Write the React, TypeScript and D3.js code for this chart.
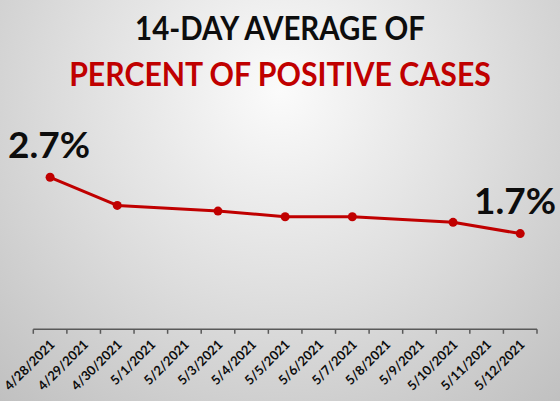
import React from "react";
import * as d3 from "d3";

const categories = [
  "4/28/2021", "4/29/2021", "4/30/2021", "5/1/2021", "5/2/2021", "5/3/2021",
  "5/4/2021", "5/5/2021", "5/6/2021", "5/7/2021", "5/8/2021", "5/9/2021",
  "5/10/2021", "5/11/2021", "5/12/2021",
];
const values: (number | null)[] = [
  2.7, null, 2.2, null, null, 2.1, null, 2.0, null, 2.0, null, null, 1.9, null, 1.7,
];
const titleLine1 = "14-DAY AVERAGE OF";
const titleLine2 = "PERCENT OF POSITIVE CASES";
const firstLabel = "2.7%";
const lastLabel = "1.7%";

const W = 560;
const H = 401;
const FONT = "Lato, 'Open Sans', sans-serif";

export default function App() {
  const x = d3.scaleBand<string>().domain(categories).range([33.3, 537]).padding(0);
  const y = d3.scaleLinear().domain([0, 3]).range([329.3, 160.4]);

  const pts = categories
    .map((c, i) => ({ c, v: values[i] }))
    .filter((d) => d.v !== null) as { c: string; v: number }[];

  const line = d3
    .line<{ c: string; v: number }>()
    .x((d) => (x(d.c) as number) + x.bandwidth() / 2)
    .y((d) => y(d.v));

  const tickXs = [...categories.map((c) => x(c) as number), 537];
  const axisY = y(0);

  return (
    <svg
      width={W}
      height={H}
      style={{ position: "absolute", left: 0, top: 0, display: "block" }}
      fontFamily={FONT}
    >
      <defs>
        <radialGradient id="bg" gradientUnits="userSpaceOnUse" cx={280} cy={90} r={420}>
          <stop offset="0%" stopColor="#fbfbfb" />
          <stop offset="50%" stopColor="#dedede" />
          <stop offset="100%" stopColor="#c0c0c0" />
        </radialGradient>
      </defs>
      <rect x={0} y={0} width={W} height={H} fill="url(#bg)" />

      <text transform="translate(280,39.5) scale(0.92,1)" textAnchor="middle" fontSize={32} fontWeight="bold" fill="#0d0d0d">
        {titleLine1}
      </text>
      <text transform="translate(280,86) scale(0.945,1)" textAnchor="middle" fontSize={32} fontWeight="bold" fill="#c00000">
        {titleLine2}
      </text>

      <line x1={33.3} x2={537} y1={axisY} y2={axisY} stroke="#595959" strokeWidth={1.5} />
      {tickXs.map((tx, i) => (
        <line key={i} x1={tx} x2={tx} y1={axisY} y2={axisY + 4.5} stroke="#595959" strokeWidth={1.5} />
      ))}
      {categories.map((c) => {
        const cx = (x(c) as number) + x.bandwidth() / 2 + 5.5;
        const cy = axisY + 16;
        return (
          <text
            key={c}
            transform={`translate(${cx},${cy}) rotate(-45)`}
            textAnchor="end"
            fontSize={13}
            fontWeight="bold"
            fill="#0d0d0d"
          >
            {c}
          </text>
        );
      })}

      <path d={line(pts) as string} fill="none" stroke="#c00000" strokeWidth={3} strokeLinejoin="round" />
      {pts.map((d) => (
        <circle
          key={d.c}
          cx={(x(d.c) as number) + x.bandwidth() / 2}
          cy={y(d.v)}
          r={4.5}
          fill="#c00000"
        />
      ))}

      <text x={8} y={158} fontSize={37} fontWeight="bold" fill="#0d0d0d">
        {firstLabel}
      </text>
      <text x={556} y={214} textAnchor="end" fontSize={37} fontWeight="bold" fill="#0d0d0d">
        {lastLabel}
      </text>
    </svg>
  );
}
